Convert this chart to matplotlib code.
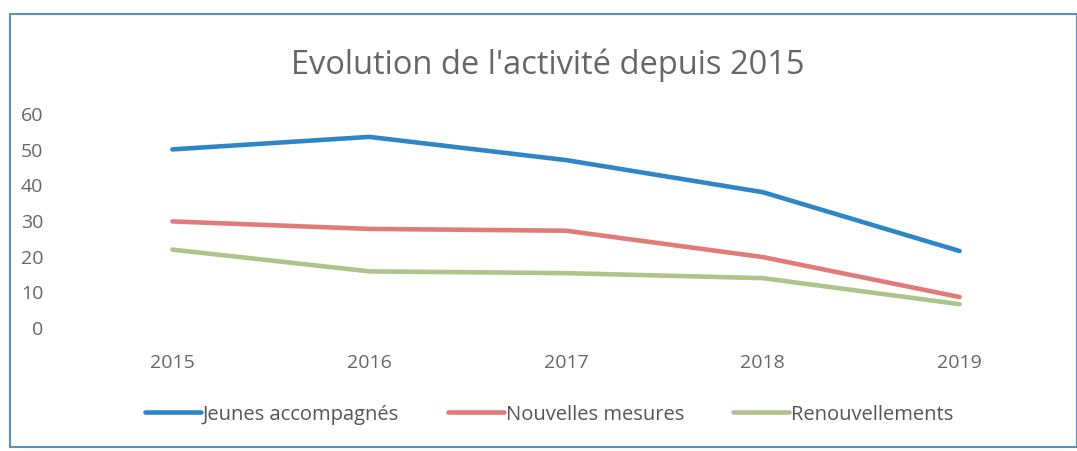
import matplotlib.pyplot as plt
from matplotlib.patches import Rectangle

years = ["2015", "2016", "2017", "2018", "2019"]
jeunes = [49.8, 53.3, 46.8, 37.8, 21.3]
nouvelles = [29.6, 27.5, 27.0, 19.6, 8.4]
renouvellements = [21.7, 15.6, 15.1, 13.7, 6.4]

plt.rcParams['font.family'] = ['Open Sans', 'DejaVu Sans']

W, H = 1077, 452
fig = plt.figure(figsize=(W / 100, H / 100), dpi=100)

# frame around the chart area (scanned border)
fig.patches.append(Rectangle((10 / W, 1 - 448 / H), 1067 / W, 433 / H,
                             transform=fig.transFigure, fill=False,
                             edgecolor='#5a8fc0', linewidth=1.5))

# axes in pixel coords: left 74, right 1058, top 114, bottom 328
ax = fig.add_axes([74 / W, 1 - 328 / H, (1058 - 74) / W, (328 - 114) / H])
x = range(len(years))
ax.plot(x, jeunes, color='#2f86c6', lw=3.3, solid_capstyle='round', label='Jeunes accompagnés')
ax.plot(x, nouvelles, color='#e27a7a', lw=3.3, solid_capstyle='round', label='Nouvelles mesures')
ax.plot(x, renouvellements, color='#adc48a', lw=3.3, solid_capstyle='round', label='Renouvellements')

ax.set_xlim(-0.5, len(years) - 0.5)
ax.set_ylim(0, 60)
ax.set_yticks(range(0, 61, 10))
ax.set_xticks(list(x))
ax.set_xticklabels(years)
ax.tick_params(length=0, labelsize=14, colors='#666666')
ax.tick_params(axis='x', pad=19)
ax.tick_params(axis='y', pad=22)
for s in ax.spines.values():
    s.set_visible(False)

fig.text(548 / W, 1 - 65 / H, "Evolution de l'activité depuis 2015",
         ha='center', va='center', fontsize=23.5, color='#666666')

leg = fig.legend(loc='center', bbox_to_anchor=(549 / W, 1 - 415 / H), ncol=3,
                 frameon=False, fontsize=14.5, handlelength=2.8, handletextpad=0.1,
                 columnspacing=2.4)
for t in leg.get_texts():
    t.set_color('#555555')

fig.savefig('out.png', dpi=100)
